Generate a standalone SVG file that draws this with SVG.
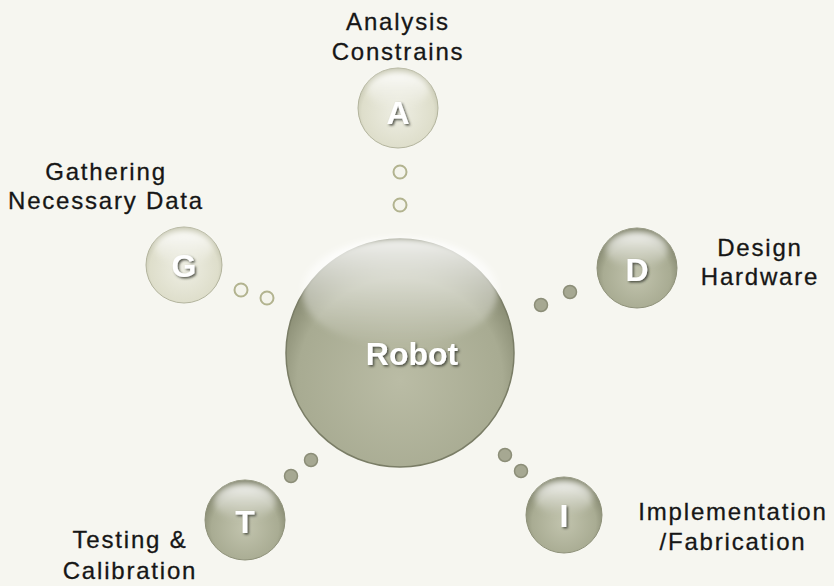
<svg xmlns="http://www.w3.org/2000/svg" width="834" height="586" viewBox="0 0 834 586">
  <defs>
    <radialGradient id="bigBody" cx="0.5" cy="0.62" r="0.6">
      <stop offset="0" stop-color="#babca5"/>
      <stop offset="0.75" stop-color="#a8ab92"/>
      <stop offset="1" stop-color="#7f8269"/>
    </radialGradient>
    <linearGradient id="gloss" x1="0" y1="0" x2="0" y2="1">
      <stop offset="0" stop-color="#ffffff" stop-opacity="0.9"/>
      <stop offset="0.5" stop-color="#ffffff" stop-opacity="0.45"/>
      <stop offset="1" stop-color="#ffffff" stop-opacity="0"/>
    </linearGradient>
    <radialGradient id="darkBall" cx="0.5" cy="0.6" r="0.6">
      <stop offset="0" stop-color="#c2c4ae"/>
      <stop offset="0.7" stop-color="#a9ac93"/>
      <stop offset="1" stop-color="#7c7f67"/>
    </radialGradient>
    <radialGradient id="lightBall" cx="0.5" cy="0.55" r="0.6">
      <stop offset="0" stop-color="#eeeee3"/>
      <stop offset="0.75" stop-color="#dedecb"/>
      <stop offset="1" stop-color="#b8b9a2"/>
    </radialGradient>
    <filter id="txtShadow" x="-20%" y="-20%" width="140%" height="160%">
      <feDropShadow dx="1.5" dy="1.5" stdDeviation="1" flood-color="#3b3c30" flood-opacity="0.85"/>
    </filter>
    <filter id="soft" x="-10%" y="-10%" width="120%" height="120%">
      <feGaussianBlur stdDeviation="3"/>
    </filter>
  </defs>
  <style>
    .lbl { font-family: "Liberation Sans", Arial, sans-serif; font-size: 24px; fill: #161616; text-anchor: middle; letter-spacing: 1.8px; stroke: #161616; stroke-width: 0.3; }
    .ltr { font-family: "Liberation Sans", Arial, sans-serif; font-weight: bold; font-size: 32px; fill: #ffffff; text-anchor: middle; filter: url(#txtShadow); }
    .dark { fill: url(#darkBall); stroke: #8e9179; stroke-width: 1; }
    .light { fill: url(#lightBall); stroke: #b3b49d; stroke-width: 1; }
    .ring { fill: #f4f4ec; stroke: #b2b38f; stroke-width: 2; }
    .dot { fill: #a6a892; stroke: #8c8e78; stroke-width: 1.5; }
    .shine { fill: url(#gloss); filter: url(#soft); }
  </style>

  <rect width="834" height="586" fill="#f6f6f0"/>

  <!-- connectors: pairs of small beads between hub and satellites -->
  <g id="connectors">
    <circle class="ring" cx="400" cy="172" r="6.5"/>
    <circle class="ring" cx="400" cy="205" r="6.5"/>
    <circle class="ring" cx="241" cy="290" r="6.5"/>
    <circle class="ring" cx="267" cy="298" r="6.5"/>
    <circle class="dot" cx="541" cy="305" r="6.5"/>
    <circle class="dot" cx="570" cy="292" r="6.5"/>
    <circle class="dot" cx="291" cy="476" r="6.5"/>
    <circle class="dot" cx="311" cy="460" r="6.5"/>
    <circle class="dot" cx="505" cy="455" r="6.5"/>
    <circle class="dot" cx="521" cy="471" r="6.5"/>
  </g>

  <g id="robot">
    <circle cx="400" cy="353" r="114" fill="url(#bigBody)" stroke="#7a7d66" stroke-width="1.5"/>
    <ellipse class="shine" cx="400" cy="292" rx="98" ry="54"/>
    <text class="ltr" x="412" y="365" font-size="35">Robot</text>
  </g>

  <g id="node-a">
    <circle class="light" cx="398" cy="108" r="40"/>
    <ellipse class="shine" cx="398" cy="90" rx="31" ry="18"/>
    <text class="ltr" x="398" y="124">A</text>
    <text class="lbl" x="398" y="30">Analysis</text>
    <text class="lbl" x="398" y="60">Constrains</text>
  </g>

  <g id="node-g">
    <circle class="light" cx="184" cy="265" r="38"/>
    <ellipse class="shine" cx="184" cy="248" rx="29" ry="17"/>
    <text class="ltr" x="184" y="277">G</text>
    <text class="lbl" x="106" y="180">Gathering</text>
    <text class="lbl" x="106" y="209">Necessary Data</text>
  </g>

  <g id="node-d">
    <circle class="dark" cx="637" cy="268" r="40"/>
    <ellipse class="shine" cx="637" cy="250" rx="31" ry="18"/>
    <text class="ltr" x="637" y="281">D</text>
    <text class="lbl" x="760" y="256">Design</text>
    <text class="lbl" x="760" y="285">Hardware</text>
  </g>

  <g id="node-t">
    <circle class="dark" cx="245" cy="520" r="40"/>
    <ellipse class="shine" cx="245" cy="502" rx="31" ry="18"/>
    <text class="ltr" x="245" y="533">T</text>
    <text class="lbl" x="130" y="548">Testing &amp;</text>
    <text class="lbl" x="130" y="579">Calibration</text>
  </g>

  <g id="node-i">
    <circle class="dark" cx="564" cy="515" r="38"/>
    <ellipse class="shine" cx="564" cy="498" rx="29" ry="17"/>
    <text class="ltr" x="564" y="527">I</text>
    <text class="lbl" x="733" y="520">Implementation</text>
    <text class="lbl" x="733" y="550">/Fabrication</text>
  </g>
</svg>
